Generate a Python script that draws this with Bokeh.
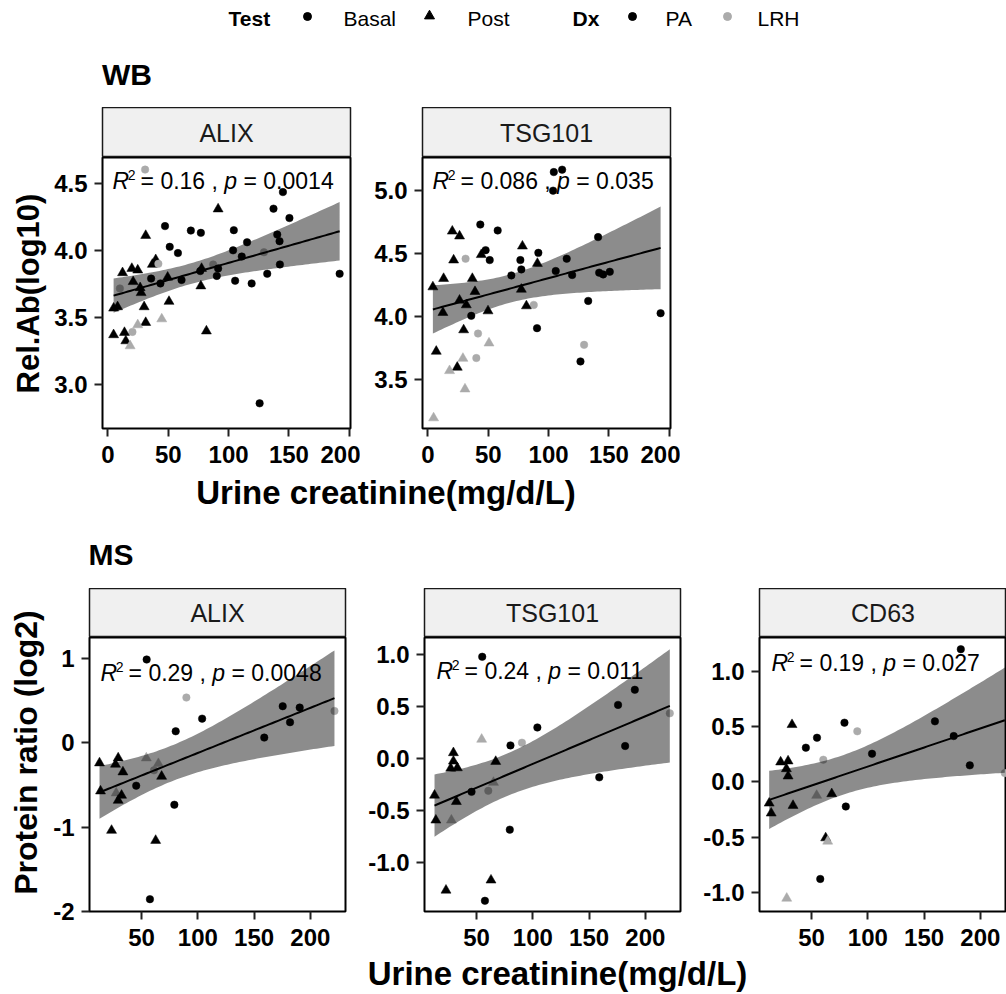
import numpy as np
from bokeh.plotting import figure
from bokeh.models import Range1d, FixedTicker, PrintfTickFormatter, ColumnDataSource
from bokeh.layouts import row, column
from bokeh.core.properties import value
from bokeh.embed import file_html
from bokeh.resources import INLINE

FONT = "Liberation Sans"

# ---------------- data ----------------
# Test code: B = Basal, P = Post ; Dx code: A = PA, L = LRH
wb_alix_x = [30.8, 145.0, 91.3, 137.2, 150.4, 47.3, 68.7, 77.0, 31.3, 104.3, 140.3, 115.3, 142.2, 51.2, 58.0,
             103.7, 129.3, 110.9, 39.6, 36.8, 41.8, 87.2, 142.5, 12.1, 19.8, 24.7, 77.6, 91.3, 76.5, 90.2,
             132.0, 192.0, 35.8, 49.5, 43.5, 61.0, 105.4, 119.1, 20.9, 77.0, 26.7, 27.5, 9.9, 4.7, 8.0,
             30.0, 50.6, 44.6, 31.3, 24.7, 4.7, 20.3, 13.7, 14.8, 18.4, 81.6, 125.7]
wb_alix_y = [4.60, 4.433, 4.307, 4.31, 4.24, 4.18, 4.147, 4.13, 4.11, 4.15, 4.117, 4.06, 4.068, 4.026, 3.98,
             4.0, 3.986, 3.954, 3.93, 3.895, 3.90, 3.895, 3.895, 3.833, 3.865, 3.853, 3.865, 3.865, 3.846, 3.81,
             3.826, 3.826, 3.79, 3.80, 3.754, 3.78, 3.774, 3.754, 3.767, 3.735, 3.722, 3.685, 3.717, 3.57, 3.58,
             3.58, 3.62, 3.49, 3.463, 3.446, 3.372, 3.394, 3.389, 3.327, 3.29, 3.40, 2.863]
wb_alix_test = "BBPBBBBBPBBBBBBBBBPPBBBPPPPBBBBBBPBBBBPPPPBPPPPPPPPBPPPPB"
wb_alix_dx = "LAAAAAAAAAAAAAAALAAALLAAAAAAAAAAAAAAAAAAAALAAAALALALAALAA"

wb_tsg_x = [104.3, 111.2, 103.7, 43.4, 57.8, 20.2, 26.2, 141.0, 78.3, 47.8, 44.2, 91.5, 31.2, 21.3, 51.2,
            76.6, 115.0, 90.7, 77.4, 105.9, 141.9, 145.2, 150.7, 69.1, 119.5, 13.0, 36.8, 4.1, 39.0, 77.4,
            26.2, 31.8, 132.8, 87.7, 81.6, 12.4, 49.8, 35.9, 192.8, 29.6, 90.4, 41.5, 50.6, 129.4, 6.9,
            29.0, 40.1, 24.3, 17.9, 126.4, 30.7, 4.7]
wb_tsg_y = [5.148, 5.167, 5.0, 4.73, 4.683, 4.677, 4.638, 4.63, 4.558, 4.526, 4.49, 4.505, 4.458, 4.447, 4.447,
            4.447, 4.458, 4.42, 4.373, 4.36, 4.347, 4.333, 4.354, 4.325, 4.328, 4.3, 4.3, 4.233, 4.196, 4.214,
            4.127, 4.09, 4.122, 4.09, 4.082, 4.029, 4.042, 4.003, 4.024, 3.891, 3.905, 3.862, 3.786, 3.772, 3.72,
            3.664, 3.667, 3.593, 3.566, 3.64, 3.42, 3.19]
wb_tsg_test = "BBBBBPPBPBPBBPBBBPBBBBBBBPPPPPPPBBPPPBBPBBPBPPBPPBPP"
wb_tsg_dx = "AAAAAAAAAAAALAAAAAAAAAAAAAAAAAAAALAAAAAAALLLALLALALL"

ms_alix_x = [54.5, 89.8, 103.8, 175.4, 190.5, 221.4, 181.9, 80.3, 159.0, 12.6, 29.2, 26.8, 54.2, 64.9, 33.4,
             61.0, 67.8, 45.2, 13.5, 27.4, 32.2, 29.2, 79.1, 23.3, 62.5, 57.4]
ms_alix_y = [0.988, 0.537, 0.287, 0.434, 0.418, 0.378, 0.244, 0.137, 0.062, -0.239, -0.18, -0.255, -0.18, -0.247,
             -0.346, -0.326, -0.398, -0.508, -0.572, -0.595, -0.623, -0.683, -0.734, -1.039, -1.158, -1.854]
ms_alix_test = "BBBBBBBBBPPPPPPBPBPPPPBPPB"
ms_alix_dx = "ALAAALAAAAAALLALAAALAAAAAA"

ms_tsg_x = [55.0, 190.6, 175.7, 221.7, 104.0, 54.5, 90.3, 80.1, 182.0, 29.4, 29.4, 67.0, 27.0, 32.9, 159.0,
            65.0, 45.5, 60.4, 12.6, 32.0, 13.8, 27.6, 79.5, 62.8, 22.8, 57.4]
ms_tsg_y = [0.977, 0.66, 0.515, 0.434, 0.298, 0.184, 0.152, 0.126, 0.12, 0.055, -0.026, -0.029, -0.094, -0.09,
            -0.181, -0.23, -0.32, -0.31, -0.353, -0.414, -0.592, -0.592, -0.683, -1.168, -1.265, -1.366]
ms_tsg_test = "BBBBBPBBBPPPPPBPBBPPPPBPPB"
ms_tsg_dx = "AAALALLAAAAAAAALALAAALAAAA"

ms_cd63_x = [182.6, 79.2, 159.6, 90.6, 32.6, 54.8, 44.9, 176.3, 103.7, 60.4, 22.5, 29.1, 27.6, 29.1, 190.6,
             221.7, 54.5, 67.9, 12.3, 33.5, 14.1, 80.4, 62.5, 64.3, 57.7, 27.9]
ms_cd63_y = [1.199, 0.535, 0.547, 0.457, 0.517, 0.399, 0.309, 0.414, 0.254, 0.2, 0.179, 0.188, 0.118, 0.052,
             0.149, 0.079, -0.123, -0.108, -0.193, -0.214, -0.283, -0.223, -0.507, -0.537, -0.878, -1.053]
ms_cd63_test = "BBBBPBBBBBPPPPBBPPPPPBPPBP"
ms_cd63_dx = "AAALAAAAALAAAAALLAAAAAALAL"

# stat labels (R^2, p)
wb_stats = [("0.16", "0.0014"), ("0.086", "0.035")]
ms_stats = [("0.29", "0.0048"), ("0.24", "0.011"), ("0.19", "0.027")]

wb_names = ["ALIX", "TSG101"]
ms_names = ["ALIX", "TSG101", "CD63"]
wb_x_ticks = [0, 50, 100, 150, 200]
ms_x_ticks = [50, 100, 150, 200]
wb_y_ticks = [[3.0, 3.5, 4.0, 4.5], [3.5, 4.0, 4.5, 5.0]]
ms_y_ticks = [[-2, -1, 0, 1], [-1.0, -0.5, 0.0, 0.5, 1.0], [-1.0, -0.5, 0.0, 0.5, 1.0]]

legend_titles = ["Test", "Dx"]
legend_labels = ["Basal", "Post", "PA", "LRH"]

# ---------------- styling ----------------
PA_COLOR = "black"
LRH_COLOR = "#ababab"
BAND_ALPHA = 0.45


def t975(df):
    z = 1.959964
    g1 = (z ** 3 + z) / 4
    g2 = (5 * z ** 5 + 16 * z ** 3 + 3 * z) / 96
    g3 = (3 * z ** 7 + 19 * z ** 5 + 17 * z ** 3 - 15 * z) / 384
    return z + g1 / df + g2 / df ** 2 + g3 / df ** 3


def lm_band(x, y):
    x = np.asarray(x, float)
    y = np.asarray(y, float)
    n = len(x)
    b, a = np.polyfit(x, y, 1)
    xs = np.linspace(x.min(), x.max(), 80)
    yh = a + b * xs
    res = y - (a + b * x)
    s = np.sqrt(np.sum(res ** 2) / (n - 2))
    sxx = np.sum((x - x.mean()) ** 2)
    se = s * np.sqrt(1.0 / n + (xs - x.mean()) ** 2 / sxx)
    t = t975(n - 2)
    return xs, yh, yh - t * se, yh + t * se


def blank(w, h):
    f = figure(width=w, height=h, x_range=Range1d(0, w), y_range=Range1d(0, h),
               x_axis_type=None, y_axis_type=None, min_border=0, title=None,
               toolbar_location=None, output_backend="svg", outline_line_color=None)
    f.background_fill_color = "white"
    f.border_fill_color = "white"
    return f


def txt(f, x, y, s, size, style="normal", align="left", baseline="middle", angle=0.0, color="black"):
    f.text(x=[x], y=[y], text=[s], text_font=value(FONT), text_font_size=f"{size}px",
           text_font_style=style, text_align=align, text_baseline=baseline, angle=angle,
           text_color=color)


def strip(name, mbl, fw, mbr, h):
    f = figure(width=mbl + fw + mbr, height=h, x_range=Range1d(0, 1), y_range=Range1d(0, 1),
               x_axis_type=None, y_axis_type=None, title=None,
               min_border_left=mbl, min_border_right=mbr, min_border_top=0, min_border_bottom=0,
               toolbar_location=None, output_backend="svg")
    f.background_fill_color = "#f0f0f0"
    f.border_fill_color = "white"
    f.outline_line_color = "#1a1a1a"
    f.outline_line_width = 1.5
    txt(f, 0.5, 0.5, name, 25, align="center", color="#1a1a1a")
    return f


def panel(x, y, test, dx, xr, yr, xticks, yticks, yfmt, mbl, fw, mbr, fh, mbb, stat, sdx, sdy):
    f = figure(width=mbl + fw + mbr, height=fh + mbb, x_range=Range1d(*xr), y_range=Range1d(*yr),
               title=None, min_border_left=mbl, min_border_right=mbr, min_border_top=0,
               min_border_bottom=mbb, toolbar_location=None, output_backend="svg")
    f.grid.visible = False
    f.background_fill_color = "white"
    f.border_fill_color = "white"
    f.outline_line_color = "black"
    f.outline_line_width = 2
    for ax in (f.xaxis[0], f.yaxis[0]):
        ax.axis_line_color = None
        ax.minor_tick_line_color = None
        ax.major_tick_in = 0
        ax.major_tick_out = 8
        ax.major_tick_line_width = 2
        ax.major_tick_line_color = "#222222"
        ax.major_label_text_font = FONT
        ax.major_label_text_font_style = "bold"
        ax.major_label_text_font_size = "24px"
        ax.major_label_text_color = "black"
    f.xaxis[0].ticker = FixedTicker(ticks=xticks)
    f.xaxis[0].formatter = PrintfTickFormatter(format="%d")
    f.xaxis[0].major_label_standoff = 9
    f.yaxis[0].ticker = FixedTicker(ticks=yticks)
    f.yaxis[0].formatter = PrintfTickFormatter(format=yfmt)
    f.yaxis[0].major_label_standoff = 7

    markers = ["circle" if t == "B" else "triangle" for t in test]
    colors = [PA_COLOR if d == "A" else LRH_COLOR for d in dx]
    sizes = [7.5 if t == "B" else 10 for t in test]
    src = ColumnDataSource(dict(x=x, y=y, marker=markers, color=colors, size=sizes))
    f.scatter("x", "y", source=src, marker="marker", size="size", fill_color="color",
              line_color="color", line_width=0.5)

    xs, yh, lo, hi = lm_band(x, y)
    f.varea(x=xs, y1=lo, y2=hi, fill_color="black", fill_alpha=BAND_ALPHA)
    f.line(xs, yh, line_color="black", line_width=2)

    # stat label: sdx = left offset, sdy = vertical centre of the caps (frame pixels)
    s = 23
    def d(px, py):
        return (xr[0] + px * (xr[1] - xr[0]) / fw, yr[1] - py * (yr[1] - yr[0]) / fh)
    W = {".": .278, " ": .278, "=": .584, ",": .278}
    def width(t):
        return sum(W.get(c, .556) for c in t) * s
    r2, pv = stat
    t1 = "= " + r2 + " , "
    t2 = "= " + pv
    o_sup = 0.66 * s
    o_t1 = 1.22 * s
    o_p = o_t1 + width(t1)
    o_t2 = o_p + 0.556 * s + 0.278 * s
    for (piece, style, ox, oy, sz) in [("R", "italic", 0, 0, s), ("2", "normal", o_sup, -6, 14),
                                       (t1, "normal", o_t1, 0, s), ("p", "italic", o_p, 0, s),
                                       (t2, "normal", o_t2, 0, s)]:
        xx, yy = d(sdx + ox, sdy + oy)
        txt(f, xx, yy, piece, sz, style=style)
    return f


# ---------------- header (legend + WB title) ----------------
W_ALL = 1006
hdr = blank(W_ALL, 107)
txt(hdr, 228, 89.5, legend_titles[0], 21, style="bold")
hdr.scatter(x=[307], y=[91], marker="circle", size=8, color="black")
txt(hdr, 343, 89.5, legend_labels[0], 21)
hdr.scatter(x=[429], y=[91.5], marker="triangle", size=10, color="black")
txt(hdr, 467, 89.5, legend_labels[1], 21)
txt(hdr, 572, 89.5, legend_titles[1], 21, style="bold")
hdr.scatter(x=[632], y=[91], marker="circle", size=8, color=PA_COLOR)
txt(hdr, 665, 89.5, legend_labels[2], 21)
hdr.scatter(x=[727], y=[91], marker="circle", size=8, color=LRH_COLOR)
txt(hdr, 757, 89.5, legend_labels[3], 21)
txt(hdr, 101.5, 33.5, "WB", 30, style="bold")

# ---------------- WB row ----------------
YL_W = 48
ylab_wb = blank(YL_W, 367)
txt(ylab_wb, 28, 181, "Rel.Ab(log10)", 31, style="bold", align="center", angle=np.pi / 2)

WB_XR = (-4.5, 201.0)
wb1 = panel(wb_alix_x, wb_alix_y, wb_alix_test, wb_alix_dx, WB_XR, (2.676, 4.69), wb_x_ticks, wb_y_ticks[0],
            "%.1f", 54, 248, 10, 271, 46, wb_stats[0], 10, 23)
wb2 = panel(wb_tsg_x, wb_tsg_y, wb_tsg_test, wb_tsg_dx, WB_XR, (3.106, 5.264), wb_x_ticks, wb_y_ticks[1],
            "%.1f", 62, 248, 10, 271, 46, wb_stats[1], 10, 23)
s1 = strip(wb_names[0], 54, 248, 10, 50)
s2 = strip(wb_names[1], 62, 248, 10, 50)
wb_row = row(ylab_wb, column(s1, wb1), column(s2, wb2))

# ---------------- middle (WB x title, MS title) ----------------
mid = blank(W_ALL, 114)
txt(mid, 385.5, 96, "Urine creatinine(mg/d/L)", 33, style="bold", align="center")
txt(mid, 88, 34, "MS", 30, style="bold")

# ---------------- MS row ----------------
ylab_ms = blank(YL_W, 368)
txt(ylab_ms, 25, 204, "Protein ratio (log2)", 32, style="bold", align="center", angle=np.pi / 2)

MS_XR = (3.7, 231.2)
CD_XR = (3.7, 3.7 + 247 * (231.2 - 3.7) / 256)
ms1 = panel(ms_alix_x, ms_alix_y, ms_alix_test, ms_alix_dx, MS_XR, (-2.0, 1.249), ms_x_ticks, ms_y_ticks[0],
            "%d", 41, 256, 10, 274, 45, ms_stats[0], 11, 35)
ms2 = panel(ms_tsg_x, ms_tsg_y, ms_tsg_test, ms_tsg_dx, MS_XR, (-1.469, 1.162), ms_x_ticks, ms_y_ticks[1],
            "%.1f", 69, 256, 10, 274, 45, ms_stats[1], 12, 33)
ms3 = panel(ms_cd63_x, ms_cd63_y, ms_cd63_test, ms_cd63_dx, CD_XR, (-1.172, 1.305), ms_x_ticks, ms_y_ticks[2],
            "%.1f", 69, 247, 0, 274, 45, ms_stats[2], 12, 25)
t1 = strip(ms_names[0], 41, 256, 10, 49)
t2 = strip(ms_names[1], 69, 256, 10, 49)
t3 = strip(ms_names[2], 69, 247, 0, 49)
ms_row = row(ylab_ms, column(t1, ms1), column(t2, ms2), column(t3, ms3))

bot = blank(W_ALL, 38)
txt(bot, 557, 21, "Urine creatinine(mg/d/L)", 33, style="bold", align="center")

page = column(hdr, wb_row, mid, ms_row, bot)
open("out.html", "w").write(file_html(page, INLINE))
